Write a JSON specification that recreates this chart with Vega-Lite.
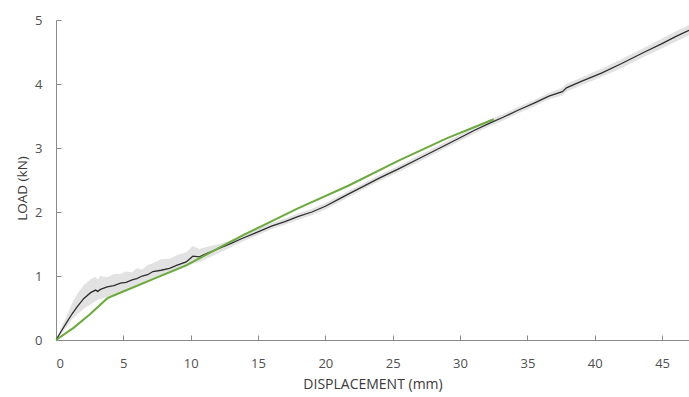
{
  "$schema": "https://vega.github.io/schema/vega-lite/v6.json",
  "width": 633,
  "height": 320,
  "autosize": {"type": "none"},
  "padding": {"left": 56, "top": 20, "right": 0, "bottom": 57},
  "config": {
    "view": {"stroke": null},
    "font": "Open Sans",
    "axis": {
      "grid": false,
      "domainColor": "#8a8a8a",
      "tickColor": "#8a8a8a",
      "tickSize": -5,
      "labelColor": "#505050",
      "labelFontSize": 13,
      "labelFont": "Open Sans",
      "titleFont": "Open Sans",
      "titleFontWeight": "normal",
      "titleFontSize": 14,
      "titleColor": "#3a3a3a"
    }
  },
  "datasets": {
    "mean": [
      {"d": 0, "load": 0, "lo": 0, "hi": 0},
      {"d": 0.4, "load": 0.14, "lo": 0.1, "hi": 0.2},
      {"d": 0.84, "load": 0.29, "lo": 0.22, "hi": 0.4},
      {"d": 1.2, "load": 0.41, "lo": 0.32, "hi": 0.58},
      {"d": 1.58, "load": 0.52, "lo": 0.4, "hi": 0.72},
      {"d": 2.07, "load": 0.65, "lo": 0.49, "hi": 0.86},
      {"d": 2.57, "load": 0.74, "lo": 0.56, "hi": 0.95},
      {"d": 2.94, "load": 0.78, "lo": 0.61, "hi": 0.99},
      {"d": 3.1, "load": 0.76, "lo": 0.63, "hi": 0.94},
      {"d": 3.3, "load": 0.79, "lo": 0.64, "hi": 1.0},
      {"d": 3.8, "load": 0.83, "lo": 0.67, "hi": 0.98},
      {"d": 4.3, "load": 0.85, "lo": 0.7, "hi": 1.03},
      {"d": 4.79, "load": 0.89, "lo": 0.73, "hi": 1.03},
      {"d": 5.2, "load": 0.9, "lo": 0.76, "hi": 1.07},
      {"d": 5.65, "load": 0.94, "lo": 0.8, "hi": 1.06},
      {"d": 6.0, "load": 0.96, "lo": 0.83, "hi": 1.12},
      {"d": 6.4, "load": 1.0, "lo": 0.86, "hi": 1.1},
      {"d": 6.8, "load": 1.02, "lo": 0.9, "hi": 1.17},
      {"d": 7.2, "load": 1.07, "lo": 0.94, "hi": 1.2},
      {"d": 7.8, "load": 1.09, "lo": 0.99, "hi": 1.26},
      {"d": 8.43, "load": 1.12, "lo": 1.04, "hi": 1.27},
      {"d": 9.0, "load": 1.17, "lo": 1.09, "hi": 1.33},
      {"d": 9.67, "load": 1.22, "lo": 1.14, "hi": 1.37},
      {"d": 10.16, "load": 1.31, "lo": 1.19, "hi": 1.47},
      {"d": 10.65, "load": 1.3, "lo": 1.22, "hi": 1.42},
      {"d": 11.3, "load": 1.36, "lo": 1.28, "hi": 1.46},
      {"d": 12.1, "load": 1.43, "lo": 1.36, "hi": 1.5},
      {"d": 13.0, "load": 1.51, "lo": 1.45, "hi": 1.56},
      {"d": 13.85, "load": 1.59, "lo": 1.54, "hi": 1.64},
      {"d": 15.0, "load": 1.69, "lo": 1.64, "hi": 1.74},
      {"d": 16.0, "load": 1.78, "lo": 1.73, "hi": 1.83},
      {"d": 17.0, "load": 1.85, "lo": 1.8, "hi": 1.9},
      {"d": 18.0, "load": 1.93, "lo": 1.88, "hi": 1.98},
      {"d": 19.0, "load": 2.0, "lo": 1.95, "hi": 2.05},
      {"d": 20.0, "load": 2.09, "lo": 2.04, "hi": 2.14},
      {"d": 21.0, "load": 2.2, "lo": 2.15, "hi": 2.25},
      {"d": 21.7, "load": 2.28, "lo": 2.23, "hi": 2.33},
      {"d": 23.0, "load": 2.42, "lo": 2.37, "hi": 2.47},
      {"d": 24.0, "load": 2.53, "lo": 2.48, "hi": 2.58},
      {"d": 25.4, "load": 2.67, "lo": 2.62, "hi": 2.72},
      {"d": 27.0, "load": 2.84, "lo": 2.79, "hi": 2.89},
      {"d": 28.5, "load": 3.0, "lo": 2.95, "hi": 3.05},
      {"d": 30.0, "load": 3.16, "lo": 3.11, "hi": 3.21},
      {"d": 31.0, "load": 3.27, "lo": 3.22, "hi": 3.32},
      {"d": 32.2, "load": 3.39, "lo": 3.34, "hi": 3.44},
      {"d": 33.2, "load": 3.48, "lo": 3.43, "hi": 3.53},
      {"d": 34.3, "load": 3.59, "lo": 3.54, "hi": 3.64},
      {"d": 35.5, "load": 3.7, "lo": 3.65, "hi": 3.75},
      {"d": 36.6, "load": 3.81, "lo": 3.76, "hi": 3.86},
      {"d": 37.6, "load": 3.88, "lo": 3.82, "hi": 3.94},
      {"d": 37.9, "load": 3.94, "lo": 3.88, "hi": 4.0},
      {"d": 39.0, "load": 4.04, "lo": 3.98, "hi": 4.1},
      {"d": 40.5, "load": 4.17, "lo": 4.11, "hi": 4.24},
      {"d": 42.0, "load": 4.32, "lo": 4.25, "hi": 4.39},
      {"d": 43.7, "load": 4.5, "lo": 4.43, "hi": 4.57},
      {"d": 45.0, "load": 4.63, "lo": 4.56, "hi": 4.71},
      {"d": 46.0, "load": 4.74, "lo": 4.66, "hi": 4.82},
      {"d": 47.0, "load": 4.84, "lo": 4.76, "hi": 4.92}
    ],
    "model": [
      {"d": 0, "load": 0},
      {"d": 1.3, "load": 0.19},
      {"d": 2.5, "load": 0.4},
      {"d": 3.8, "load": 0.65},
      {"d": 4.1, "load": 0.68},
      {"d": 7.2, "load": 0.95},
      {"d": 9.7, "load": 1.17},
      {"d": 12.1, "load": 1.44},
      {"d": 14.0, "load": 1.65},
      {"d": 18.0, "load": 2.06},
      {"d": 21.7, "load": 2.41},
      {"d": 25.4, "load": 2.8},
      {"d": 29.0, "load": 3.15},
      {"d": 32.5, "load": 3.45}
    ]
  },
  "layer": [
    {
      "data": {"name": "mean"},
      "mark": {"type": "area", "color": "#e2e2e2", "clip": true},
      "encoding": {
        "x": {"field": "d", "type": "quantitative", "scale": {"domain": [0, 47], "nice": false},
          "axis": {"title": "DISPLACEMENT (mm)", "values": [0,5,10,15,20,25,30,35,40,45], "labelPadding": 22, "titlePadding": 7}},
        "y": {"field": "lo", "type": "quantitative", "scale": {"domain": [0, 5], "nice": false},
          "axis": {"title": "LOAD (kN)", "values": [0,1,2,3,4,5], "format": "d", "labelPadding": 19,
            "titleFontSize": 13.5, "titleX": -34, "titleY": 168, "titleAlign": "center", "titleBaseline": "middle", "titleAngle": -90}},
        "y2": {"field": "hi"}
      }
    },
    {
      "data": {"name": "mean"},
      "mark": {"type": "line", "color": "#2e2e2e", "strokeWidth": 1.3, "clip": true},
      "encoding": {
        "x": {"field": "d", "type": "quantitative"},
        "y": {"field": "load", "type": "quantitative"}
      }
    },
    {
      "data": {"name": "model"},
      "mark": {"type": "line", "color": "#6aab3c", "strokeWidth": 2},
      "encoding": {
        "x": {"field": "d", "type": "quantitative"},
        "y": {"field": "load", "type": "quantitative"}
      }
    }
  ]
}
